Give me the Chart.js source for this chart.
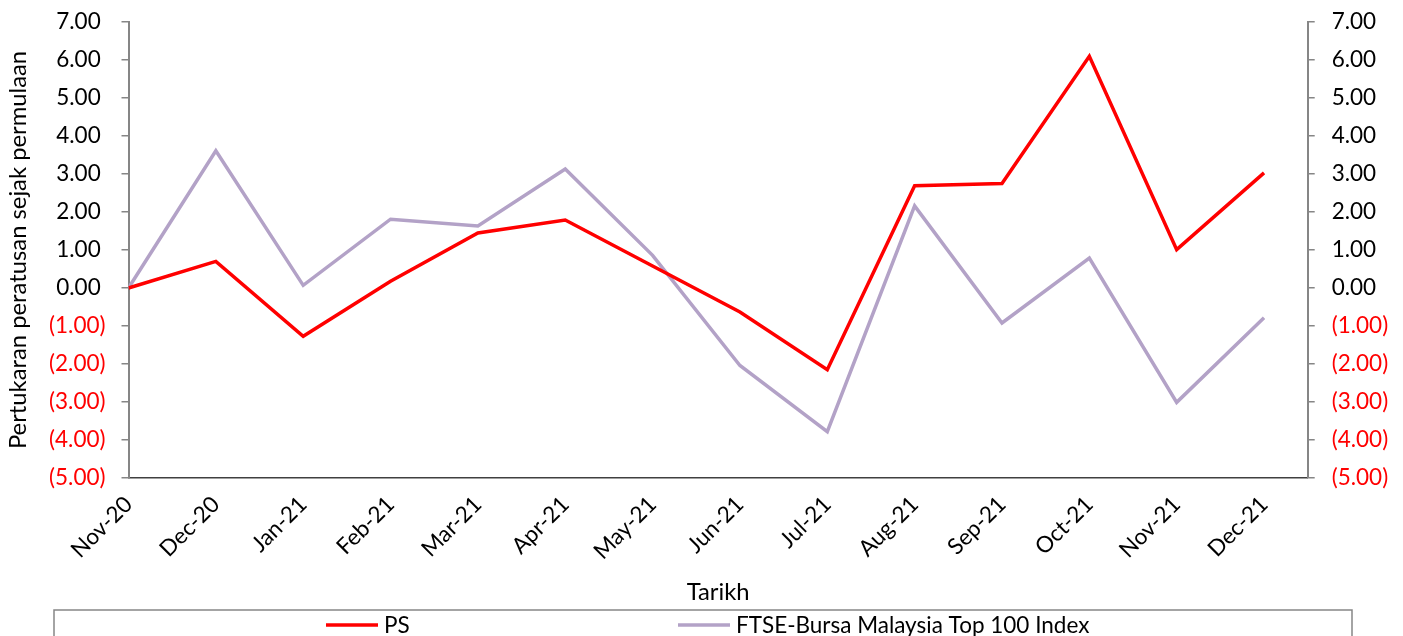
<!DOCTYPE html>
<html>
<head>
<meta charset="utf-8">
<script src="https://cdn.jsdelivr.net/npm/chart.js@4"></script>
<style>
    html, body { margin: 0; padding: 0; background: #fff; }
    #wrap { width: 1403px; height: 636px; position: relative; }
</style>
</head>
<body>
<div id="wrap"><canvas id="chart" width="1403" height="636"></canvas></div>
<script>
// Chart data
const months = ['Nov-20', 'Dec-20', 'Jan-21', 'Feb-21', 'Mar-21', 'Apr-21', 'May-21',
    'Jun-21', 'Jul-21', 'Aug-21', 'Sep-21', 'Oct-21', 'Nov-21', 'Dec-21'];
const psValues = [0.00, 0.70, -1.27, 0.18, 1.45, 1.79, 0.58, -0.63, -2.15, 2.69, 2.75, 6.10, 1.01, 3.03];
const ftseValues = [0.00, 3.61, 0.07, 1.81, 1.63, 3.13, 0.86, -2.04, -3.78, 2.16, -0.92, 0.79, -3.01, -0.78];
const yMin = -5;
const yMax = 7;

const FONT = 'Lato';
const TEXT_SIZE = 22.5;
const TITLE_SIZE = 23.8;
const AXIS_GREY = '#868686';

// Excel style number format 0.00_);(0.00)
function fmt(v) {
    if (v < 0) return '(' + Math.abs(v).toFixed(2) + ')';
    return v.toFixed(2) + '\u2008';
}

function points(values) {
    return values.map((v, i) => ({ x: i, y: v }));
}

// keep the plot area at the same place as the original
function fitY(width) {
    return (scale) => {
        scale.width = width;
        scale.paddingTop = 0;
        scale.paddingBottom = 0;
    };
}

// Legend drawn in a bordered box below the axis, like the original
const boxLegend = {
    id: 'boxLegend',
    afterDraw(chart) {
        const ctx = chart.ctx;
        ctx.save();
        ctx.strokeStyle = AXIS_GREY;
        ctx.lineWidth = 1.5;
        ctx.strokeRect(54, 610, 1298, 40);

        const starts = [326, 678];
        chart.data.datasets.forEach((ds, i) => {
            const x = starts[i];
            ctx.strokeStyle = ds.borderColor;
            ctx.lineWidth = 3.5;
            ctx.beginPath();
            ctx.moveTo(x, 625);
            ctx.lineTo(x + 52, 625);
            ctx.stroke();
            ctx.fillStyle = '#000';
            ctx.font = TEXT_SIZE + 'px ' + FONT;
            ctx.textBaseline = 'middle';
            ctx.fillText(ds.label, x + 58, 626);
        });
        ctx.restore();
    }
};

const ctx = document.getElementById('chart').getContext('2d');
new Chart(ctx, {
    type: 'line',
    data: {
        datasets: [
            {
                label: 'PS',
                data: points(psValues),
                borderColor: '#FF0000',
                borderWidth: 3.5,
                pointRadius: 0,
                tension: 0,
                yAxisID: 'y'
            },
            {
                label: 'FTSE-Bursa Malaysia Top 100 Index',
                data: points(ftseValues),
                borderColor: '#B3A2C7',
                borderWidth: 3.5,
                pointRadius: 0,
                tension: 0,
                yAxisID: 'y'
            }
        ]
    },
    options: {
        responsive: false,
        animation: false,
        layout: { padding: { top: 22, left: 0, right: 0, bottom: 0 } },
        plugins: {
            legend: { display: false },
            tooltip: { enabled: false }
        },
        scales: {
            x: {
                type: 'linear',
                min: 0,
                max: 13.5,
                afterBuildTicks: (scale) => {
                    scale.ticks = months.map((m, i) => ({ value: i }));
                },
                afterFit: (scale) => { scale.height = 636 - 478; },
                grid: { display: false, drawTicks: false },
                border: { display: true, color: '#404040', width: 1.5 },
                ticks: {
                    autoSkip: false,
                    maxRotation: 45,
                    minRotation: 45,
                    padding: 13,
                    color: '#000',
                    font: { family: FONT, size: TEXT_SIZE },
                    callback: (v) => months[v] || ''
                },
                title: {
                    display: true,
                    text: 'Tarikh',
                    color: '#000',
                    font: { family: FONT, size: TITLE_SIZE },
                    padding: { top: 0, bottom: 29 }
                }
            },
            y: {
                position: 'left',
                min: yMin,
                max: yMax,
                afterFit: fitY(128.5),
                grid: { drawOnChartArea: false, drawTicks: true, tickLength: 7, color: AXIS_GREY, lineWidth: 1.5 },
                border: { display: true, color: AXIS_GREY, width: 2 },
                ticks: {
                    stepSize: 1,
                    padding: 16,
                    color: (c) => c.tick.value < 0 ? '#FF0000' : '#000',
                    font: { family: FONT, size: TEXT_SIZE },
                    callback: (v) => fmt(v)
                },
                title: {
                    display: true,
                    text: 'Pertukaran peratusan sejak permulaan',
                    color: '#000',
                    font: { family: FONT, size: TITLE_SIZE },
                    padding: { top: 4, bottom: 0 }
                }
            },
            y2: {
                position: 'right',
                min: yMin,
                max: yMax,
                afterFit: fitY(95.3),
                grid: { drawOnChartArea: false, drawTicks: true, tickLength: 7, color: AXIS_GREY, lineWidth: 1.5 },
                border: { display: true, color: AXIS_GREY, width: 2 },
                ticks: {
                    stepSize: 1,
                    padding: 17,
                    color: (c) => c.tick.value < 0 ? '#FF0000' : '#000',
                    font: { family: FONT, size: TEXT_SIZE },
                    callback: (v) => v < 0 ? fmt(v) : v.toFixed(2)
                }
            }
        }
    },
    plugins: [boxLegend]
});
</script>
</body>
</html>
